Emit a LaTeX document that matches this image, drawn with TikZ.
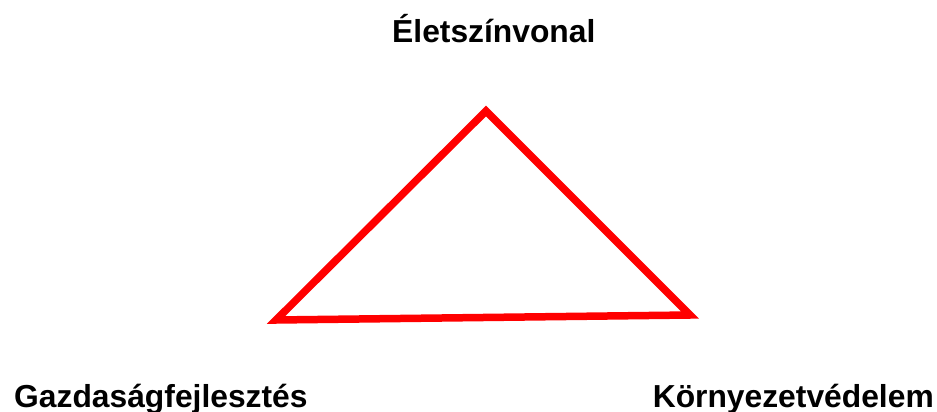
\documentclass[tikz,border=0pt]{standalone}
\usepackage{fontspec}
\setmainfont{Liberation Sans}
\begin{document}
\begin{tikzpicture}[x=1pt, y=-1pt, line join=miter,
    felirat/.style={inner sep=0pt, font=\fontsize{31.8}{32}\selectfont\bfseries},
    haromszog/.style={draw=red, line width=7.5pt}]
  \useasboundingbox (0,0) rectangle (937,412);
  % a háromszög csúcsai
  \coordinate (fent) at (486,111);
  \coordinate (balra) at (276,320);
  \coordinate (jobbra) at (690,315);
  \draw[haromszog] (fent) -- (balra) -- (jobbra) -- cycle;
  % a feliratok
  \node[felirat, anchor=base west] (elet) at (392,43) {Életszínvonal};
  \node[felirat, anchor=base west] (gazdasag) at (14,407) {Gazdaságfejlesztés};
  \node[felirat, anchor=base east] (kornyezet) at (934,407) {Környezetvédelem};
\end{tikzpicture}
\end{document}
